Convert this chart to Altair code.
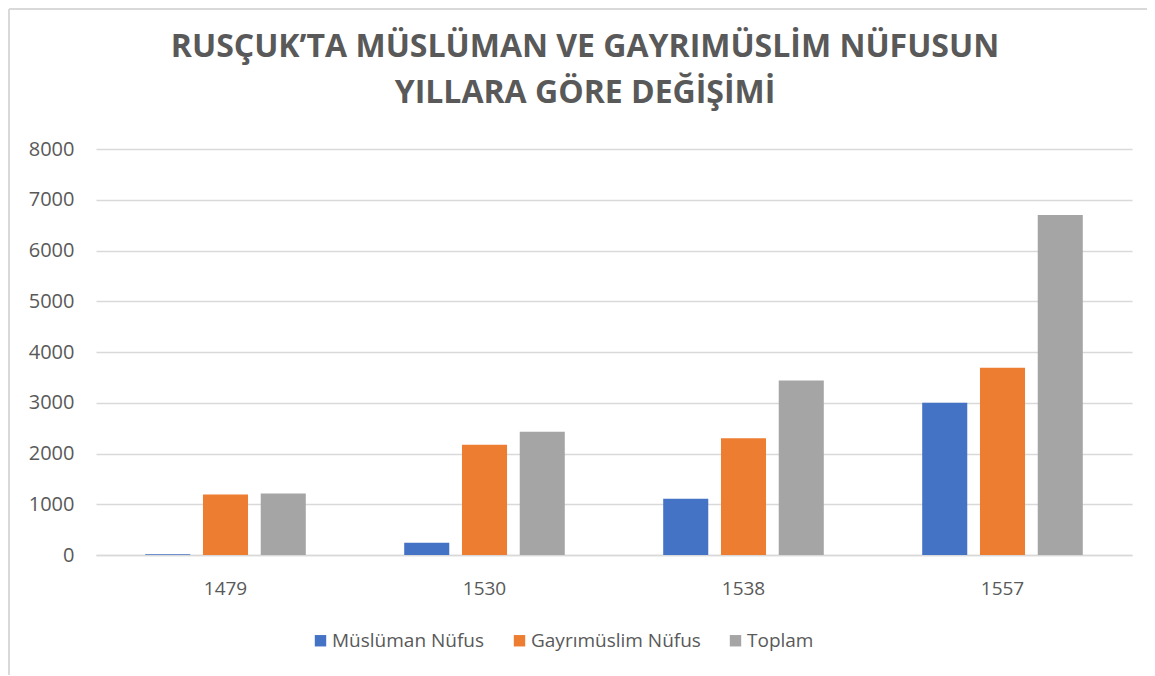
import altair as alt
import pandas as pd

years = ["1479", "1530", "1538", "1557"]
series = ["Müslüman Nüfus", "Gayrımüslim Nüfus", "Toplam"]
muslim = [15, 240, 1110, 3000]
gayri = [1190, 2170, 2300, 3690]
toplam = [1210, 2430, 3440, 6700]
colors = ["#4472C4", "#ED7D31", "#A5A5A5"]
y_ticks = [0, 1000, 2000, 3000, 4000, 5000, 6000, 7000, 8000]
title_lines = ["RUSÇUK’TA MÜSLÜMAN VE GAYRIMÜSLİM NÜFUSUN", "YILLARA GÖRE DEĞİŞİMİ"]

rows = []
for i, yr in enumerate(years):
    for s, vals in zip(series, [muslim, gayri, toplam]):
        rows.append({"Yıl": yr, "Seri": s, "Değer": vals[i]})
df = pd.DataFrame(rows)

W, H = 1036, 406
PAD_L, PAD_T, PAD_R, PAD_B = 88, 141, 15, 120
FONT = "Open Sans"
GRAY = "#595959"

bars = alt.Chart(df).mark_bar().encode(
    x=alt.X("Yıl:N", sort=years, title=None,
            scale=alt.Scale(paddingInner=0.38, paddingOuter=0.19),
            axis=alt.Axis(labelAngle=0, ticks=False, domain=True, domainColor="#d9d9d9",
                          domainWidth=1.5, labelPadding=24, labelFontSize=19,
                          labelColor=GRAY, labelFont=FONT, grid=False)),
    xOffset=alt.XOffset("Seri:N", sort=series,
                        scale=alt.Scale(paddingInner=0.22, paddingOuter=0)),
    y=alt.Y("Değer:Q", title=None,
            scale=alt.Scale(domain=[0, 8000], nice=False),
            axis=alt.Axis(values=y_ticks, format="d", ticks=False, domain=False,
                          labelPadding=22, labelFontSize=20, labelColor=GRAY,
                          labelFont=FONT, gridColor="#d9d9d9", gridWidth=1.5)),
    color=alt.Color("Seri:N", sort=series, title=None,
                    scale=alt.Scale(domain=series, range=colors),
                    legend=alt.Legend(orient="none", direction="horizontal",
                                      legendX=215, legendY=482,
                                      symbolType="square", symbolSize=130,
                                      symbolStrokeWidth=0, labelFontSize=19,
                                      labelColor=GRAY, labelFont=FONT,
                                      labelLimit=400, columnPadding=25,
                                      labelOffset=2)),
)

frame_df = pd.DataFrame({"k": [0]})
left_line = alt.Chart(frame_df).mark_rule(color="#d9d9d9", strokeWidth=2).encode(
    x=alt.value(-87), y=alt.value(-140), y2=alt.value(H + PAD_B))
top_line = alt.Chart(frame_df).mark_rule(color="#d9d9d9", strokeWidth=2).encode(
    x=alt.value(-87), x2=alt.value(W + PAD_R), y=alt.value(-140))

chart = alt.layer(bars, left_line, top_line).properties(
    width=W, height=H,
    autosize=alt.AutoSizeParams(type="none"),
    padding={"left": PAD_L, "top": PAD_T, "right": PAD_R, "bottom": PAD_B},
    title=alt.Title(title_lines, anchor="middle", frame="group", dx=-29,
                    font=FONT, fontSize=32, fontWeight="bold", color=GRAY,
                    lineHeight=46, offset=-102),
).configure_view(stroke=None)

chart.save("out.html", embed_options={"renderer": "svg", "actions": False})
